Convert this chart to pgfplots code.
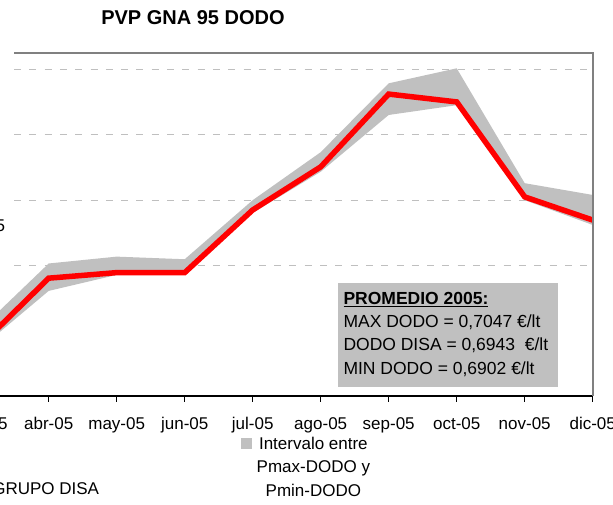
\documentclass[border=0pt]{standalone}
\usepackage{pgfplots}
\pgfplotsset{compat=1.18}
\usepackage{fontspec}
\setmainfont{Liberation Sans}
\definecolor{bandgray}{HTML}{C0C0C0}
\definecolor{gridgray}{HTML}{BFBFBF}
\definecolor{framegray}{HTML}{808080}
\begin{document}
\begin{tikzpicture}[x=1bp,y=1bp]
\path[use as bounding box] (0,0) rectangle (613,505);
\clip (0,0) rectangle (613,505);
\begin{axis}[
  at={(-19.3bp,109bp)}, anchor=south west,
  width=612bp, height=342.7bp, scale only axis,
  xmin=0, xmax=9, ymin=0.64, ymax=0.745,
  axis x line*=bottom, axis y line=none,
  x axis line style={black, line width=1.6bp},
  xtick={0,...,9},
  xticklabels={mar-05,abr-05,may-05,jun-05,jul-05,ago-05,sep-05,oct-05,nov-05,dic-05},
  tick align=outside, major tick length=6bp,
  xtick style={black, line width=1.2bp},
  xticklabel style={font=\fontsize{17bp}{20bp}\selectfont, anchor=base, inner sep=0pt, yshift=-27.3bp},
  clip=false,
  legend style={draw=none, fill=none, inner sep=0pt, outer sep=0pt, column sep=5bp,
    cells={anchor=base west}, nodes={inner sep=0pt},
    font=\fontsize{17bp}{23.7bp}\selectfont,
    at={(0.42533,-0.10709)}, anchor=north west},
]
\foreach \v in {0.68,0.70,0.72,0.74}{
  \edef\tmp{\noexpand\draw[gridgray, line width=1bp, dash pattern=on 7bp off 8.3bp] (axis cs:0.49,\v) -- (axis cs:9,\v);}
  \tmp
}
\addplot[draw=none, fill=bandgray,
  legend image code/.code={\fill[bandgray] (0bp,0bp) rectangle (10.7bp,11bp);}]
  coordinates {
  (0,0.6606) (1,0.6806) (2,0.6827) (3,0.6819) (4,0.7000)
  (5,0.7147) (6,0.7358) (7,0.7404) (8,0.7052) (9,0.7016)
  (9,0.6924) (8,0.7000) (7,0.7291) (6,0.7261) (5,0.7087)
  (4,0.6961) (3,0.6771) (2,0.6771) (1,0.6722) (0,0.6547)
  } -- cycle;
\addlegendentry{\begin{tabular}[t]{@{}c@{}}Intervalo entre\\Pmax-DODO y\\Pmin-DODO\end{tabular}}
\addplot[red, line width=5.5bp, line join=miter, forget plot] coordinates {
  (0,0.6556) (1,0.6761) (2,0.6778) (3,0.6778) (4,0.6970)
  (5,0.7102) (6,0.7325) (7,0.7301) (8,0.7010) (9,0.6939)
};
\draw[framegray, line width=1.7bp] (axis cs:0.49,0.745) -- (axis cs:9,0.745) -- (axis cs:9,0.64);
\end{axis}
\node[anchor=base, inner sep=0pt, font=\bfseries\fontsize{20bp}{24bp}\selectfont] at (193,480) {PVP GNA 95 DODO};
\node[anchor=base east, inner sep=0pt, font=\fontsize{17bp}{20bp}\selectfont] at (5.2,273.3) {5};
\node[anchor=base east, inner sep=0pt, font=\fontsize{17bp}{20bp}\selectfont] at (99.3,10) {GRUPO DISA};
\fill[bandgray] (338.3,118.3) rectangle (557.7,221.7);
\begin{scope}[every node/.style={anchor=base west, inner sep=0pt, font=\fontsize{17.5bp}{21bp}\selectfont}]
\node at (343.3,200) {\textbf{\underline{PROMEDIO 2005:}}};
\node at (343.3,177.5) {MAX DODO = 0,7047 €/lt};
\node at (343.3,154.3) {DODO DISA = 0,6943 \ €/lt};
\node at (343.3,130) {MIN DODO = 0,6902 €/lt};
\end{scope}
\end{tikzpicture}
\end{document}
